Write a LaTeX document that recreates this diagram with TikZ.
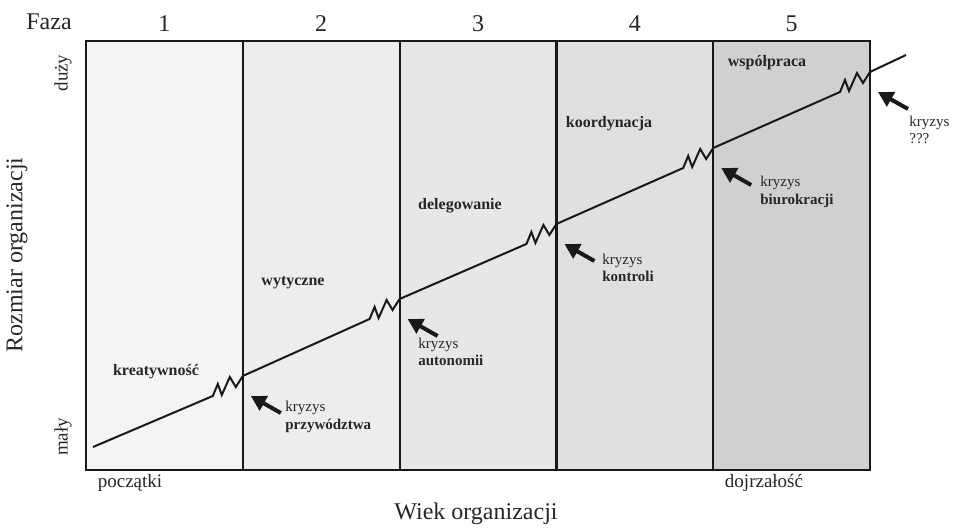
\documentclass[tikz,border=0pt]{standalone}
\usepackage{fontspec}
\setmainfont{Liberation Serif}
\usetikzlibrary{arrows.meta, positioning}

\definecolor{faza1}{gray}{0.957}
\definecolor{faza2}{gray}{0.93}
\definecolor{faza3}{gray}{0.905}
\definecolor{faza4}{gray}{0.88}
\definecolor{faza5}{gray}{0.815}

\tikzset{
  ramka/.style={line width=1.1pt, black!90},
  wzrost/.style={line width=1pt, black!90, line join=miter},
  etap/.style={font=\fontsize{8}{9}\selectfont\bfseries, text=black!85},
  opis/.style={font=\fontsize{7.5}{8.8}\selectfont, align=left, anchor=west, inner sep=0pt, text=black!85},
  strzalka/.style={line width=2pt, black!90, -{Triangle[length=7.5pt,width=8pt]}},
  os/.style={font=\fontsize{12}{14}\selectfont, text=black!85},
  skala/.style={font=\fontsize{9.5}{11}\selectfont, text=black!85}
}

\begin{document}
\begin{tikzpicture}[x=0.5pt, y=-0.5pt]
				\useasboundingbox (0,0) rectangle (953,528);
				
				% Fazy rozwoju
				\foreach \i in {1,...,5}{
					\pgfmathsetmacro{\xa}{86+(\i-1)*156.8}
					\pgfmathsetmacro{\xb}{86+\i*156.8}
					\fill[faza\i] (\xa,41) rectangle (\xb,470);
					\node[os] (nr\i) at ({(\xa+\xb)/2},24) {\i};
				}
				\draw[ramka] (86,41) rectangle (870,470);
				\foreach \i in {1,...,4}
					\draw[ramka] ({86+\i*156.8},41) -- ({86+\i*156.8},470);
				
				% Punkty przejscia
				\coordinate (J0) at (93,447);
				\coordinate (J1) at (242.8,376);
				\coordinate (J2) at (399.6,299);
				\coordinate (J3) at (556.4,224);
				\coordinate (J4) at (713.2,148);
				\coordinate (J5) at (870,72);
				\coordinate (koniec) at (906,55);
				
				% Linia wzrostu z kryzysami
				\foreach \a/\b in {J0/J1, J1/J2, J2/J3, J3/J4, J4/J5}
					\draw[wzrost] (\a) -- ([shift={(-30,20)}]\b) -- ++(5,-12) -- ++(4,11)
						-- ++(8,-18) -- ++(6,10) -- (\b);
				\draw[wzrost] (J5) -- (koniec);
				
				% Strzalki kryzysow
				\foreach \j in {1,...,5}{
					\coordinate (grot\j) at ([shift={(8,20)}]J\j);
					\coordinate (ogon\j) at ([shift={(38,37)}]J\j);
					\draw[strzalka] (ogon\j) -- (grot\j);
				}
				\node[opis] (k1) at (285,417) {kryzys\\\textbf{przywództwa}};
				\node[opis] (k2) at (418,352) {kryzys\\\textbf{autonomii}};
				\node[opis] (k3) at (602,268) {kryzys\\\textbf{kontroli}};
				\node[opis] (k4) at (760,192) {kryzys\\\textbf{biurokracji}};
				\node[opis] (k5) at (909,130) {kryzys\\???};
				
				% Nazwy etapow
				\node[etap] (e1) at (156,372) {kreatywność};
				\node[etap] (e2) at (293,283) {wytyczne};
				\node[etap] (e3) at (460,206) {delegowanie};
				\node[etap] (e4) at (609,124) {koordynacja};
				\node[etap] (e5) at (767,63) {współpraca};
				
				% Opisy osi
				\node[os] (faza) at (49,22) {Faza};
				\node[skala, rotate=90] (duzy) at (63,73) {duży};
				\node[skala, rotate=90] (maly) at (63,437) {mały};
				\node[os, rotate=90] (rozmiar) at (17,255) {Rozmiar organizacji};
				\node[skala] (poczatki) at (130,483) {początki};
				\node[skala] (dojrzalosc) at (764,483) {dojrzałość};
				\node[os] (wiek) at (476,514) {Wiek organizacji};
			\end{tikzpicture}
\end{document}
